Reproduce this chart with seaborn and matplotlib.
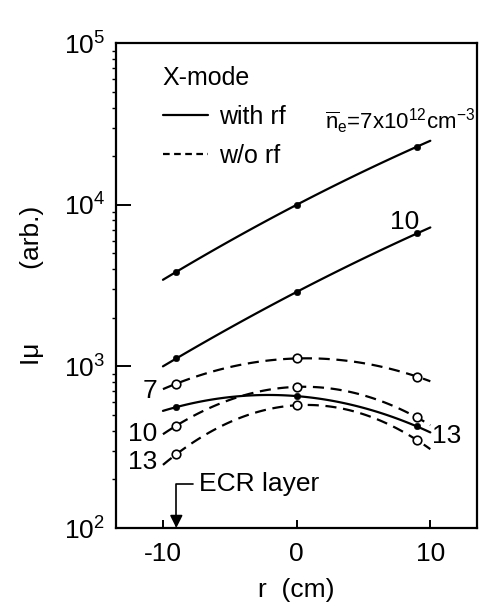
import matplotlib
matplotlib.use("Agg")
import matplotlib.pyplot as plt
from matplotlib.lines import Line2D
import numpy as np
import pandas as pd
import seaborn as sns

# values (r in cm, I_mu in arb. units)
r_pos = [-9, 0, 9]
with_rf_7 = [3850, 10000, 22900]
with_rf_10 = [1120, 2890, 6650]
with_rf_13 = [560, 655, 425]
wo_rf_7 = [782, 1120, 865]
wo_rf_10 = [430, 747, 483]
wo_rf_13 = [286, 575, 350]

series = {
    ("with rf", 7): with_rf_7,
    ("with rf", 10): with_rf_10,
    ("with rf", 13): with_rf_13,
    ("w/o rf", 7): wo_rf_7,
    ("w/o rf", 10): wo_rf_10,
    ("w/o rf", 13): wo_rf_13,
}
rows = []
for (rf, ne), vals in series.items():
    for r, v in zip(r_pos, vals):
        rows.append({"r": r, "I": v, "rf": rf, "ne": ne})
df = pd.DataFrame(rows)
df["logI"] = np.log10(df["I"])

sns.set_style("ticks")
plt.rcParams["font.family"] = ["Liberation Sans", "DejaVu Sans"]
plt.rcParams["mathtext.fontset"] = "custom"
plt.rcParams["mathtext.rm"] = "Liberation Sans"
plt.rcParams["mathtext.it"] = "Liberation Sans:italic"
for key in ["text.color", "axes.labelcolor", "xtick.color", "ytick.color",
            "axes.edgecolor"]:
    plt.rcParams[key] = "black"

fig = plt.figure(figsize=(4.8, 6.09), dpi=100)
ax = fig.add_axes([0.242, 0.133, 0.752, 0.796])
ax.set_yscale("log")
ax.set_ylim(1e2, 1e5)

# smooth curves through the three points, fitted in log space on an
# overlaid linear axis whose limits match the log decades
fit_ax = ax.twinx()
fit_ax.set_ylim(2, 5)
fit_ax.set_xlim(-10, 10)  # fitted curves span r = -10..10
for (rf, ne), sub in df.groupby(["rf", "ne"]):
    sns.regplot(
        data=sub, x="r", y="logI", order=2, ci=None, scatter=False,
        truncate=False, ax=fit_ax,
        line_kws=dict(color="k", lw=1.6,
                      ls="-" if rf == "with rf" else (0, (5, 3))),
    )
fit_ax.set_ylim(2, 5)
fit_ax.axis("off")

sns.scatterplot(data=df[df["rf"] == "with rf"], x="r", y="I", ax=ax,
                color="k", s=22, edgecolor="k", zorder=5, legend=False)
sns.scatterplot(data=df[df["rf"] == "w/o rf"], x="r", y="I", ax=ax,
                facecolor="white", s=38, edgecolor="k", linewidth=1.2,
                zorder=5, legend=False)
ax.set_zorder(fit_ax.get_zorder() + 1)
ax.patch.set_visible(False)

ax.set_xlim(-13.5, 13.5)
fit_ax.set_xlim(-13.5, 13.5)
ax.set_xticks([-10, 0, 10])
ax.set_xticklabels(["-10", "0", "10"])
ax.tick_params(axis="both", which="major", labelsize=19, direction="in",
               width=1.4, color="k")
ax.tick_params(axis="x", which="major", length=6, pad=10)
ax.tick_params(axis="y", which="major", length=11, pad=8)
ax.tick_params(axis="y", which="minor", length=3, direction="out", width=1)
for s in ax.spines.values():
    s.set_linewidth(1.6)
    s.set_color("k")

ax.set_xlabel("r  (cm)", fontsize=19, labelpad=9)
ax.set_ylabel("Iμ          (arb.)", fontsize=19, labelpad=14)

# legend
handles = [Line2D([], [], color="k", lw=1.6),
           Line2D([], [], color="k", lw=1.6, ls=(0, (3, 2)))]
leg = ax.legend(handles, ["with rf", "w/o rf"], title="X-mode",
                loc="upper left", bbox_to_anchor=(0.08, 0.99), frameon=False,
                fontsize=18, title_fontsize=18, handlelength=1.8,
                handletextpad=0.45, labelspacing=0.6, borderaxespad=0.3)
leg._legend_box.align = "left"

# curve annotations
ax.text(0.995, 0.84,
        r"$\overline{\mathrm{n}}_\mathrm{e}$=7x10$^{12}$cm$^{-3}$",
        transform=ax.transAxes, ha="right", va="center", fontsize=16)
ax.text(8.1, 7800, "10", ha="center", va="center", fontsize=19)
ax.text(-11.0, 700, "7", ha="center", va="center", fontsize=19)
ax.text(-11.5, 383, "10", ha="center", va="center", fontsize=19)
ax.text(-11.5, 255, "13", ha="center", va="center", fontsize=19)
ax.text(11.2, 370, "13", ha="center", va="center", fontsize=19)

ax.annotate("ECR layer", xy=(-9, 100), xytext=(-7.3, 186),
            ha="left", va="center", fontsize=19,
            arrowprops=dict(arrowstyle="-|>", color="k", lw=1.2,
                            shrinkA=2, shrinkB=0,
                            connectionstyle="angle,angleA=180,angleB=90,rad=0"))

fig.savefig("out.png", dpi=100)
